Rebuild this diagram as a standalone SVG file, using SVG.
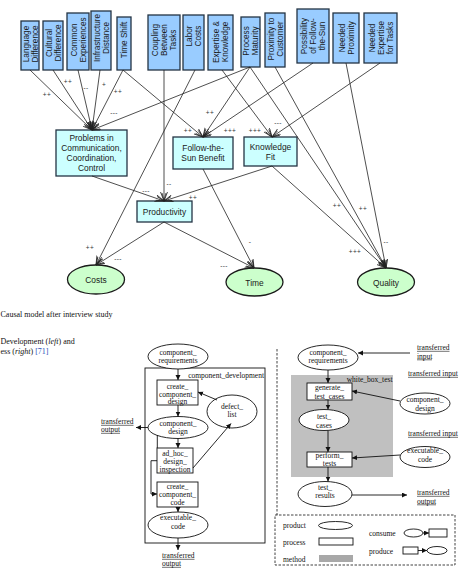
<svg xmlns="http://www.w3.org/2000/svg" width="461" height="571" viewBox="0 0 461 571">
<style>
.fb{fill:#99ccff;stroke:#243444;stroke-width:1.3}
.mb{fill:#ccffff;stroke:#243444;stroke-width:1.3}
.el{fill:#ccffcc;stroke:#1a1a1a;stroke-width:1.3}
.t{font-family:"Liberation Sans",Arial,sans-serif;font-size:8.4px;fill:#1a1a1a}
.rt{font-family:"Liberation Sans",Arial,sans-serif;font-size:8.2px;fill:#1a1a1a;text-anchor:middle}
.c{text-anchor:middle}
.cn line,.cn path{stroke:#222;stroke-width:0.8;fill:none;marker-end:url(#oa)}
.lb{font-family:"Liberation Sans",Arial,sans-serif;font-size:6.5px;fill:#333;text-anchor:middle;letter-spacing:0.4px}
.s{font-family:"Liberation Serif","Times New Roman",serif;font-size:7.5px;fill:#111}
.cap{font-family:"Liberation Serif","Times New Roman",serif;font-size:8px;fill:#111}
.pe{fill:#fff;stroke:#111;stroke-width:0.9}
.pr{fill:#fff;stroke:#111;stroke-width:0.9}
.pc line,.pc path{stroke:#111;stroke-width:0.9;fill:none;marker-end:url(#fa)}
.ul{stroke:#111;stroke-width:0.6}
</style>
<defs>
<marker id="oa" markerUnits="userSpaceOnUse" markerWidth="12" markerHeight="10" refX="9" refY="3.5" orient="auto">
<path d="M0,0 L9,3.5 L0,7 M1,1.5 L9,3.5 L1,5.5" fill="none" stroke="#222" stroke-width="0.8"/>
</marker>
<marker id="fa" markerUnits="userSpaceOnUse" markerWidth="8" markerHeight="8" refX="5" refY="2.5" orient="auto">
<path d="M0,0 L5,2.5 L0,5 Z" fill="#111"/>
</marker>
</defs>

<!-- top factor boxes -->
<g id="language-difference"><rect class="fb" x="21" y="21" width="18" height="49"/>
<text class="rt" transform="translate(30,44) rotate(-90)"><tspan x="0" y="-1.5">Language</tspan><tspan x="0" y="7.5">Difference</tspan></text></g>
<g id="cultural-difference"><rect class="fb" x="43" y="21" width="20" height="49"/>
<text class="rt" transform="translate(53,43) rotate(-90)"><tspan x="0" y="-1.5">Cultural</tspan><tspan x="0" y="7.5">Difference</tspan></text></g>
<g id="common-experiences"><rect class="fb" x="67" y="13" width="22" height="57"/>
<text class="rt" transform="translate(78,40) rotate(-90)"><tspan x="0" y="-1.5">Common</tspan><tspan x="0" y="7.5">Experiences</tspan></text></g>
<g id="infrastructure-distance"><rect class="fb" x="91" y="11" width="20" height="59"/>
<text class="rt" transform="translate(101,38) rotate(-90)"><tspan x="0" y="-1.5">Infrastructure</tspan><tspan x="0" y="7.5">Distance</tspan></text></g>
<g id="time-shift"><rect class="fb" x="117" y="17" width="14" height="53"/>
<text class="rt" transform="translate(124,40) rotate(-90)"><tspan x="0" y="3">Time Shift</tspan></text></g>
<g id="coupling-between-tasks"><rect class="fb" x="148" y="15" width="32" height="55"/>
<text class="rt" transform="translate(164,40) rotate(-90)"><tspan x="0" y="-6">Coupling</tspan><tspan x="0" y="3">Between</tspan><tspan x="0" y="12">Tasks</tspan></text></g>
<g id="labor-costs"><rect class="fb" x="183" y="15" width="21" height="55"/>
<text class="rt" transform="translate(193.5,36) rotate(-90)"><tspan x="0" y="-1.5">Labor</tspan><tspan x="0" y="7.5">Costs</tspan></text></g>
<g id="expertise-knowledge"><rect class="fb" x="208" y="15" width="25" height="55"/>
<text class="rt" transform="translate(220.5,42) rotate(-90)"><tspan x="0" y="-1.5">Expertise &amp;</tspan><tspan x="0" y="7.5">Knowledge</tspan></text></g>
<g id="process-maturity"><rect class="fb" x="241" y="17" width="19" height="50"/>
<text class="rt" transform="translate(250.5,41) rotate(-90)"><tspan x="0" y="-1.5">Process</tspan><tspan x="0" y="7.5">Maturity</tspan></text></g>
<g id="proximity-to-customer"><rect class="fb" x="265" y="13" width="20" height="54"/>
<text class="rt" transform="translate(275,39) rotate(-90)"><tspan x="0" y="-1.5">Proximity to</tspan><tspan x="0" y="7.5">Customer</tspan></text></g>
<g id="possibility-follow-the-sun"><rect class="fb" x="297" y="9" width="32" height="54"/>
<text class="rt" transform="translate(313,36) rotate(-90)"><tspan x="0" y="-6">Possibility</tspan><tspan x="0" y="3">of Follow-</tspan><tspan x="0" y="12">the-Sun</tspan></text></g>
<g id="needed-proximity"><rect class="fb" x="333" y="13" width="26" height="50"/>
<text class="rt" transform="translate(346,38) rotate(-90)"><tspan x="0" y="-1.5">Needed</tspan><tspan x="0" y="7.5">Proximity</tspan></text></g>
<g id="needed-expertise"><rect class="fb" x="364" y="13" width="33" height="50"/>
<text class="rt" transform="translate(380.5,38) rotate(-90)"><tspan x="0" y="-6">Needed</tspan><tspan x="0" y="3">Expertise</tspan><tspan x="0" y="12">for Tasks</tspan></text></g>

<!-- intermediate boxes -->
<g id="problems"><rect class="mb" x="56" y="130" width="71" height="46"/>
<text class="t c"><tspan x="91.5" y="141.3">Problems in</tspan><tspan x="91.5" y="151.3">Communication,</tspan><tspan x="91.5" y="161.3">Coordination,</tspan><tspan x="91.5" y="171.3">Control</tspan></text></g>
<g id="follow-the-sun-benefit"><rect class="mb" x="173" y="137" width="60" height="32"/>
<text class="t c"><tspan x="203" y="151.3">Follow-the-</tspan><tspan x="203" y="161.3">Sun Benefit</tspan></text></g>
<g id="knowledge-fit"><rect class="mb" x="244" y="137" width="53" height="29"/>
<text class="t c"><tspan x="270.5" y="149.7">Knowledge</tspan><tspan x="270.5" y="159.7">Fit</tspan></text></g>
<g id="productivity"><rect class="mb" x="137" y="201" width="55" height="21"/>
<text class="t c" x="164.5" y="214.7">Productivity</text></g>

<!-- outcome ellipses -->
<g id="costs"><ellipse class="el" cx="96" cy="279.5" rx="28.5" ry="14.5"/><text class="t c" x="96" y="283">Costs</text></g>
<g id="time"><ellipse class="el" cx="254.5" cy="282" rx="28.5" ry="14"/><text class="t c" x="254.5" y="285.5">Time</text></g>
<g id="quality"><ellipse class="el" cx="386" cy="282" rx="28.5" ry="14"/><text class="t c" x="386" y="285.5">Quality</text></g>

<!-- causal connectors -->
<g id="causal-connectors" class="cn">
<line x1="30" y1="70" x2="92" y2="130"/>
<line x1="53" y1="70" x2="92" y2="130"/>
<line x1="78" y1="70" x2="92" y2="130"/>
<line x1="100" y1="70" x2="92" y2="130"/>
<line x1="123" y1="70" x2="92" y2="130"/>
<line x1="250" y1="67" x2="92" y2="130"/>
<line x1="123" y1="70" x2="203" y2="137"/>
<line x1="250" y1="67" x2="203" y2="137"/>
<line x1="313" y1="63" x2="203" y2="137"/>
<line x1="222" y1="70" x2="272" y2="137"/>
<line x1="380" y1="63" x2="272" y2="137"/>
<line x1="92" y1="176" x2="164" y2="201"/>
<line x1="164" y1="70" x2="164" y2="201"/>
<line x1="272" y1="166" x2="164" y2="201"/>
<line x1="195" y1="70" x2="96" y2="265"/>
<line x1="164" y1="222" x2="96" y2="265"/>
<line x1="164" y1="222" x2="254" y2="268"/>
<line x1="203" y1="169" x2="254" y2="268"/>
<line x1="272" y1="166" x2="386" y2="268"/>
<line x1="250" y1="67" x2="386" y2="268"/>
<line x1="275" y1="67" x2="386" y2="268"/>
<line x1="346" y1="63" x2="386" y2="268"/>
</g>
<g id="causal-labels">
<text class="lb" x="47" y="97">++</text>
<text class="lb" x="68" y="84">++</text>
<text class="lb" x="86" y="90">--</text>
<text class="lb" x="104" y="87">+</text>
<text class="lb" x="118" y="94">++</text>
<text class="lb" x="114" y="115">---</text>
<text class="lb" x="188" y="133">++</text>
<text class="lb" x="210" y="115">++</text>
<text class="lb" x="230" y="133">+++</text>
<text class="lb" x="255" y="133">+++</text>
<text class="lb" x="278" y="125">---</text>
<text class="lb" x="146" y="193">---</text>
<text class="lb" x="169" y="186">--</text>
<text class="lb" x="193" y="200">++</text>
<text class="lb" x="90" y="250">++</text>
<text class="lb" x="118" y="261">---</text>
<text class="lb" x="224" y="268">---</text>
<text class="lb" x="250" y="244">-</text>
<text class="lb" x="355" y="254">+++</text>
<text class="lb" x="337" y="208">++</text>
<text class="lb" x="363" y="211">++</text>
<text class="lb" x="386" y="244">--</text>
</g>

<!-- captions -->
<g id="captions">
<text class="cap" x="0.5" y="317">Causal model after interview study</text>
<text class="cap" x="0.5" y="343.5">Development (<tspan font-style="italic">left</tspan>) and</text>
<text class="cap" x="0.5" y="354">ess (<tspan font-style="italic">right</tspan>) <tspan fill="#2d4fb8">[71]</tspan></text>
</g>

<!-- left process: component_development -->
<g id="component-development"><rect x="145" y="368" width="120" height="175" fill="none" stroke="#111" stroke-width="0.9"/>
<text class="s" x="264" y="378" text-anchor="end">component_development</text></g>
<g id="l-component-requirements"><ellipse class="pe" cx="178" cy="356.5" rx="30" ry="12.5"/>
<text class="s c"><tspan x="178" y="355">component_</tspan><tspan x="178" y="363">requirements</tspan></text></g>
<g id="create-component-design"><rect class="pr" x="157" y="380" width="41" height="25"/>
<text class="s c"><tspan x="177.5" y="388.5">create_</tspan><tspan x="177.5" y="396.5">component_</tspan><tspan x="177.5" y="404">design</tspan></text></g>
<g id="l-component-design"><ellipse class="pe" cx="178" cy="427.5" rx="30" ry="11"/>
<text class="s c"><tspan x="178" y="425.5">component_</tspan><tspan x="178" y="434">design</tspan></text></g>
<g id="defect-list"><ellipse class="pe" cx="232" cy="411.5" rx="25" ry="16.5"/>
<text class="s c"><tspan x="232" y="408.5">defect_</tspan><tspan x="232" y="417">list</tspan></text></g>
<g id="ad-hoc-design-inspection"><rect class="pr" x="157" y="448" width="36" height="25"/>
<text class="s c"><tspan x="175" y="455.5">ad_hoc_</tspan><tspan x="175" y="463.5">design_</tspan><tspan x="175" y="471.5">inspection</tspan></text></g>
<g id="create-component-code"><rect class="pr" x="157" y="482" width="41" height="25"/>
<text class="s c"><tspan x="177.5" y="489">create_</tspan><tspan x="177.5" y="497">component_</tspan><tspan x="177.5" y="505">code</tspan></text></g>
<g id="l-executable-code"><ellipse class="pe" cx="178" cy="525" rx="30" ry="13"/>
<text class="s c"><tspan x="178" y="520">executable_</tspan><tspan x="178" y="528.5">code</tspan></text></g>
<g id="l-transferred-output-left"><text class="s"><tspan x="101" y="424">transferred</tspan><tspan x="101" y="432">output</tspan></text>
<line class="ul" x1="101" y1="425.3" x2="133.5" y2="425.3"/><line class="ul" x1="101" y1="433.3" x2="120" y2="433.3"/></g>
<g id="l-transferred-output-bottom"><text class="s"><tspan x="162" y="558">transferred</tspan><tspan x="162" y="566">output</tspan></text>
<line class="ul" x1="162" y1="559.3" x2="194.5" y2="559.3"/><line class="ul" x1="162" y1="567.3" x2="181" y2="567.3"/></g>
<g id="left-process-connectors" class="pc">
<line x1="178" y1="369" x2="178" y2="380"/>
<line x1="178" y1="405" x2="178" y2="416.5"/>
<line x1="148" y1="427.5" x2="136" y2="427.5"/>
<line x1="178" y1="438.5" x2="178" y2="448"/>
<line x1="157.3" y1="435" x2="157.3" y2="448" style="marker-end:none"/>
<path d="M157,460.7 H151 V494 H157"/>
<line x1="193" y1="468" x2="231" y2="423.5"/>
<line x1="217" y1="400" x2="198" y2="392"/>
<line x1="178" y1="507" x2="178" y2="512"/>
<line x1="178" y1="538" x2="178" y2="550"/>
</g>

<!-- right process: white_box_test -->
<line x1="277" y1="349" x2="277" y2="515" stroke="#111" stroke-width="0.8" stroke-dasharray="2.5,1.5"/>
<g id="white-box-test"><rect x="291" y="375" width="102" height="102" fill="#c0c0c0"/>
<text class="s" x="392.5" y="381.5" text-anchor="end">white_box_test</text></g>
<g id="r-component-requirements"><ellipse class="pe" cx="328" cy="357.5" rx="30" ry="12.5"/>
<text class="s c"><tspan x="328" y="355">component_</tspan><tspan x="328" y="363">requirements</tspan></text></g>
<g id="generate-test-cases"><rect class="pr" x="307" y="383" width="45" height="17"/>
<text class="s c"><tspan x="329.5" y="390">generate_</tspan><tspan x="329.5" y="398.5">test_cases</tspan></text></g>
<g id="test-cases"><ellipse class="pe" cx="324" cy="420" rx="25" ry="10.5"/>
<text class="s c"><tspan x="324" y="418.5">test_</tspan><tspan x="324" y="427.5">cases</tspan></text></g>
<g id="perform-tests"><rect class="pr" x="307" y="452" width="45" height="15"/>
<text class="s c"><tspan x="329.5" y="458">perform_</tspan><tspan x="329.5" y="466">tests</tspan></text></g>
<g id="test-results"><ellipse class="pe" cx="325" cy="494" rx="27" ry="12.5"/>
<text class="s c"><tspan x="325" y="489.5">test_</tspan><tspan x="325" y="498">results</tspan></text></g>
<g id="r-component-design"><ellipse class="pe" cx="425" cy="403.5" rx="25" ry="10.5"/>
<text class="s c"><tspan x="425" y="402">component_</tspan><tspan x="425" y="410.5">design</tspan></text></g>
<g id="r-executable-code"><ellipse class="pe" cx="425" cy="457" rx="25" ry="10.5"/>
<text class="s c"><tspan x="425" y="453">executable_</tspan><tspan x="425" y="461.5">code</tspan></text></g>
<g id="r-transferred-input-1"><text class="s"><tspan x="417" y="350">transferred</tspan><tspan x="417" y="358.5">input</tspan></text>
<line class="ul" x1="417" y1="351.3" x2="449.5" y2="351.3"/><line class="ul" x1="417" y1="359.8" x2="432" y2="359.8"/></g>
<g id="r-transferred-input-2"><text class="s" x="408" y="376">transferred input</text><line class="ul" x1="408" y1="377.3" x2="458" y2="377.3"/></g>
<g id="r-transferred-input-3"><text class="s" x="408" y="436">transferred input</text><line class="ul" x1="408" y1="437.3" x2="458" y2="437.3"/></g>
<g id="r-transferred-output"><text class="s"><tspan x="417" y="495">transferred</tspan><tspan x="417" y="503.5">output</tspan></text>
<line class="ul" x1="417" y1="496.3" x2="449.5" y2="496.3"/><line class="ul" x1="417" y1="504.8" x2="436" y2="504.8"/></g>
<g id="right-process-connectors" class="pc">
<line x1="410" y1="353" x2="358" y2="353"/>
<line x1="328" y1="370" x2="328" y2="383"/>
<line x1="400" y1="401" x2="352" y2="391"/>
<line x1="328" y1="400" x2="328" y2="409.5"/>
<line x1="328" y1="430.5" x2="328" y2="452"/>
<line x1="400" y1="455" x2="352" y2="458"/>
<line x1="328" y1="467" x2="328" y2="481.5"/>
<line x1="352" y1="495" x2="407" y2="495"/>
</g>

<!-- legend -->
<g id="legend">
<rect x="275" y="515" width="180" height="50" fill="none" stroke="#111" stroke-width="0.8" stroke-dasharray="2.5,1.5"/>
<text class="s" x="283" y="527.5">product</text>
<ellipse class="pe" cx="335.5" cy="525.5" rx="17" ry="4"/>
<text class="s" x="283" y="544.5">process</text>
<rect class="pr" x="319" y="538" width="34" height="7"/>
<text class="s" x="283" y="562">method</text>
<rect x="319" y="555" width="34" height="7" fill="#a8a8a8"/>
<text class="s" x="369" y="535.5">consume</text>
<ellipse class="pe" cx="413.5" cy="533" rx="9.5" ry="4"/>
<rect class="pr" x="429" y="529" width="18" height="8"/>
<text class="s" x="369" y="553.5">produce</text>
<rect class="pr" x="403" y="547" width="15" height="7"/>
<ellipse class="pe" cx="437" cy="550.5" rx="10" ry="4"/>
<g class="pc"><line x1="423" y1="533" x2="429" y2="533"/><line x1="418" y1="550.5" x2="427" y2="550.5"/></g>
</g>
</svg>
